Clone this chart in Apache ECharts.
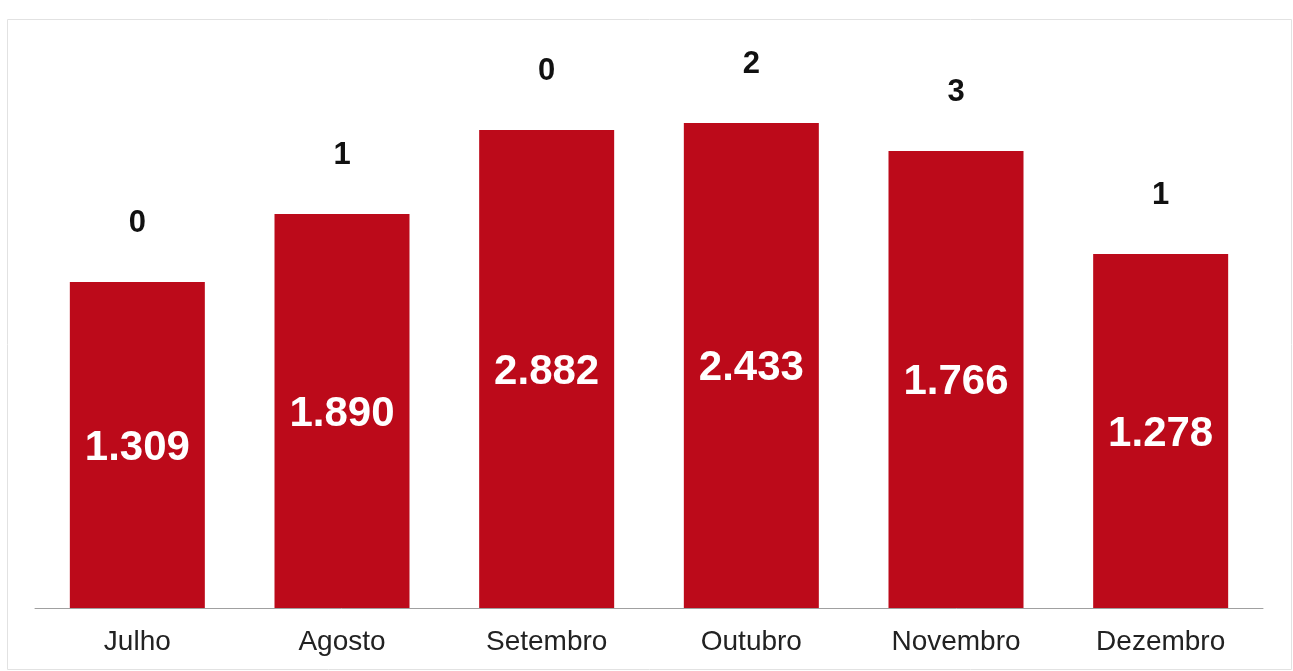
<!DOCTYPE html>
<html>
<head>
<meta charset="utf-8">
<script src="https://cdn.jsdelivr.net/npm/echarts@6/dist/echarts.min.js"></script>
<style>
html,body{margin:0;padding:0;background:#fff;}
#chart{width:1293px;height:671px;}
</style>
</head>
<body>
<div id="chart"></div>
<script>
// Categories (months)
const months = ['Julho', 'Agosto', 'Setembro', 'Outubro', 'Novembro', 'Dezembro'];
// Bar heights as drawn in the reference (relative units)
const barHeight = [326, 394, 478, 485, 457, 354];
// Values printed inside the bars
const insideValues = [1309, 1890, 2882, 2433, 1766, 1278];
// Values printed above the bars
const topValues = [0, 1, 0, 2, 3, 1];

function fmtBR(n) {
  return String(n).replace(/\B(?=(\d{3})+(?!\d))/g, '.');
}

const chart = echarts.init(document.getElementById('chart'), null, {renderer: 'canvas'});
chart.setOption({
  animation: false,
  backgroundColor: '#ffffff',
  grid: {left: 35, right: 30, top: 8, bottom: 63, containLabel: false},
  xAxis: {
    type: 'category',
    data: months,
    axisLine: {show: true, lineStyle: {color: '#a0a0a0', width: 1}},
    axisTick: {show: false},
    axisLabel: {
      color: '#222222',
      fontFamily: 'Liberation Sans, Arial, sans-serif',
      fontSize: 28,
      margin: 20
    }
  },
  yAxis: {
    type: 'value',
    min: 0,
    max: 600,
    show: false,
    splitLine: {show: false}
  },
  series: [
    {
      type: 'bar',
      stack: 'total',
      data: barHeight,
      barWidth: 135,
      itemStyle: {color: '#BC0A1A'},
      label: {
        show: true,
        position: 'inside',
        offset: [0, 3],
        color: '#ffffff',
        fontFamily: 'Liberation Sans, Arial, sans-serif',
        fontWeight: 'bold',
        fontSize: 42,
        formatter: p => fmtBR(insideValues[p.dataIndex])
      }
    },
    {
      type: 'bar',
      stack: 'total',
      data: topValues.map(() => 0),
      barWidth: 135,
      itemStyle: {color: 'transparent'},
      label: {
        show: true,
        position: 'top',
        distance: 43,
        color: '#111111',
        fontFamily: 'Liberation Sans, Arial, sans-serif',
        fontWeight: 'bold',
        fontSize: 31,
        formatter: p => String(topValues[p.dataIndex])
      }
    }
  ],
  graphic: [
    {
      type: 'rect',
      left: 5, top: 17,
      shape: {width: 1284, height: 650},
      style: {fill: 'none', stroke: '#e2e2e2', lineWidth: 1},
      silent: true
    }
  ]
});
</script>
</body>
</html>
